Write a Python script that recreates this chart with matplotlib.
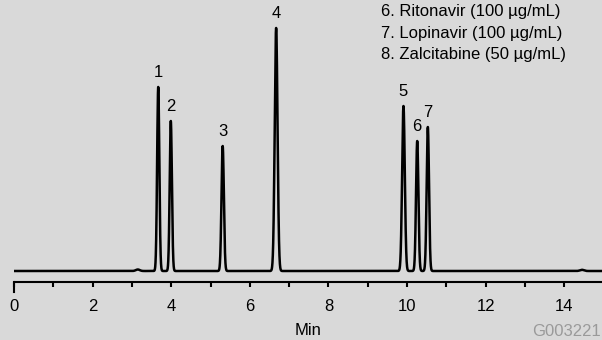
import numpy as np
import matplotlib
matplotlib.use('Agg')
import matplotlib.pyplot as plt

plt.rcParams['font.family'] = ['Liberation Sans', 'DejaVu Sans']

# peak data (retention time in min, height in detector units, width sigma)
peak_labels = ['1', '2', '3', '4', '5', '6', '7']
peak_times = [3.67, 3.99, 5.31, 6.67, 9.91, 10.26, 10.53]
peak_heights = [184, 150, 125, 243, 165, 130, 144]
peak_sigmas = [0.028, 0.028, 0.030, 0.036, 0.034, 0.030, 0.030]

# small baseline disturbances
bump_times = [3.15, 14.45]
bump_heights = [1.5, 1.2]

legend_lines = ['6. Ritonavir (100 µg/mL)',
                '7. Lopinavir (100 µg/mL)',
                '8. Zalcitabine (50 µg/mL)']

bg = '#d9d9d9'

# build the trace from the peak table
t = np.linspace(0, 15, 8000)
signal = np.zeros_like(t)
for tr, h, s in zip(peak_times, peak_heights, peak_sigmas):
    signal += h * np.exp(-0.5 * ((t - tr) / s) ** 2)
for tr, h in zip(bump_times, bump_heights):
    signal += h * np.exp(-0.5 * ((t - tr) / 0.05) ** 2)

fig = plt.figure(figsize=(6.02, 3.4), dpi=100, facecolor=bg)
ax = fig.add_axes([14 / 602, (340 - 281.5) / 340, 588 / 602, 281.5 / 340])
ax.set_facecolor(bg)

ax.plot(t, signal, color='black', lw=1.8, solid_joinstyle='round')

ax.set_xlim(0, 588 / 39.3)
ax.set_ylim(-10.5, 271)

for sp in ['left', 'right', 'top']:
    ax.spines[sp].set_visible(False)
ax.spines['bottom'].set_linewidth(1.5)
ax.spines['bottom'].set_capstyle('butt')

ax.set_yticks([])
ax.set_xticks(range(0, 15, 2))
ax.set_xticks(range(1, 15, 2), minor=True)
ax.tick_params(axis='x', which='both', direction='out', length=3.8, width=1.5,
               labelsize=12, pad=9, color='black')
# longer tick at the start of the axis
ax.axvline(0, ymin=-10 / 281.5, ymax=0, color='black', lw=1.5, clip_on=False)

ax.set_xlabel('Min', fontsize=12, labelpad=6)

# peak numbers
for lab, tr, h in zip(peak_labels, peak_times, peak_heights):
    ax.annotate(lab, (tr, h), xytext=(0, 5), textcoords='offset points',
                ha='center', va='bottom', fontsize=12)

# compound list (top is cut off in the original)
for i, line in enumerate(legend_lines):
    ax.text(9.33, 255 - i * 21.6, line, fontsize=12, ha='left', va='baseline')

fig.text(601 / 602, 8 / 340, 'G003221', color='#9a9a9a', fontsize=12,
         ha='right', va='center')

fig.savefig('out.png', dpi=100, facecolor=bg)
